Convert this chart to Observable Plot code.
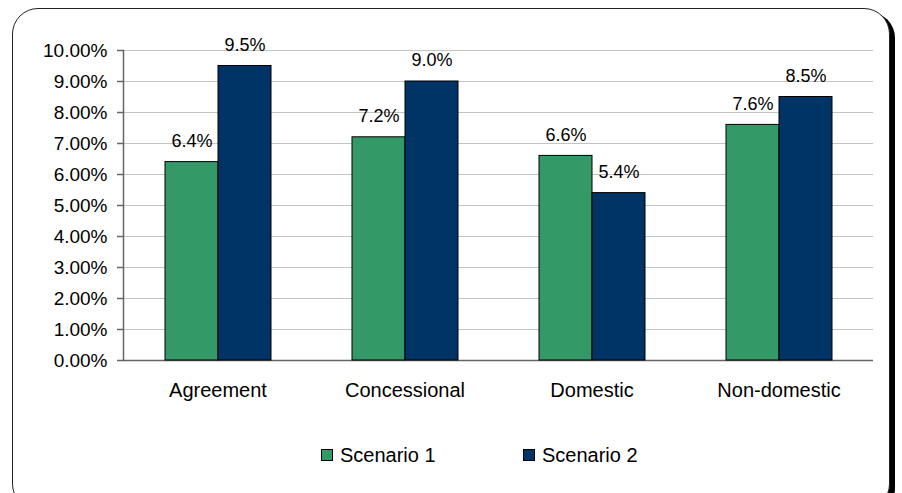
<!DOCTYPE html>
<html>
<head>
<meta charset="utf-8">
<script src="https://cdn.jsdelivr.net/npm/d3@7"></script>
<script src="https://cdn.jsdelivr.net/npm/@observablehq/plot@0.6"></script>
<style>
  html, body { margin: 0; padding: 0; background: #fff; overflow: hidden; }
  #wrap { position: relative; width: 902px; height: 493px; overflow: hidden; font-family: "Liberation Sans", Arial, sans-serif; }
  #box { position: absolute; left: 12px; top: 8px; width: 876px; height: 500px; border: 1.5px solid #222; border-radius: 26px; box-shadow: 5px 4px 0 #000; background: #fff; }
  #bg, #fg { position: absolute; left: 0; top: 0; }
  #bg svg [aria-label="y-axis tick label"] { font-size: 19px; }
  #bg svg [aria-label="y-axis tick"] { stroke: #666; stroke-width: 1.5; }
  #legend { position: absolute; top: 440px; left: 0; width: 902px; height: 30px; font-size: 20px; color: #000; }
  .item { position: absolute; top: 0; display: flex; align-items: center; height: 30px; }
  .sw { width: 10px; height: 10px; border: 1px solid #000; margin-right: 7px; }
</style>
</head>
<body>
<div id="wrap">
  <div id="box"></div>
  <div id="bg"></div>
  <div id="fg"></div>
  <div id="legend"></div>
</div>
<script>
const categories = ["Agreement", "Concessional", "Domestic", "Non-domestic"];
const series = ["Scenario 1", "Scenario 2"];
const scenario1 = [0.064, 0.072, 0.066, 0.076];
const scenario2 = [0.095, 0.090, 0.054, 0.085];
const yTicks = [0, 0.01, 0.02, 0.03, 0.04, 0.05, 0.06, 0.07, 0.08, 0.09, 0.10];
const colors = ["#339966", "#003366"];

const data = categories.flatMap((c, i) => [
  {category: c, series: series[0], value: scenario1[i]},
  {category: c, series: series[1], value: scenario2[i]}
]);

const dims = {
  width: 902,
  height: 420,
  marginLeft: 123,
  marginRight: 29,
  marginTop: 50,
  marginBottom: 60,
  style: {fontFamily: "'Liberation Sans', Arial, sans-serif", fontSize: "20px", color: "#000", background: "transparent", overflow: "visible"}
};

// background: axes, grid, baseline
const bg = Plot.plot({
  ...dims,
  x: {type: "band", domain: categories, padding: 0, tickSize: 0, tickPadding: 22, label: null},
  y: {domain: [0, 0.1], ticks: yTicks, tickFormat: d3.format(".2%"), tickSize: 6, tickPadding: 10, label: null},
  marks: [
    Plot.ruleY(yTicks.slice(1), {stroke: "#c4c4c4", strokeWidth: 1}),
    Plot.ruleY([0], {stroke: "#666", strokeWidth: 1.5}),
    Plot.frame({anchor: "left", stroke: "#666", strokeWidth: 1.5})
  ]
});
document.getElementById("bg").appendChild(bg);

// foreground: grouped bars and value labels
const fg = Plot.plot({
  ...dims,
  fx: {domain: categories, paddingInner: 0.43, paddingOuter: 0.215, axis: null, label: null},
  x: {domain: series, padding: 0, axis: null},
  y: {domain: [0, 0.1], axis: null},
  color: {domain: series, range: colors},
  marks: [
    Plot.barY(data, {fx: "category", x: "series", y: "value", fill: "series", stroke: "#000", strokeWidth: 1}),
    Plot.text(data, {fx: "category", x: "series", y: "value", text: d => d3.format(".1%")(d.value), dy: -21, fontSize: 18, fill: "#000"})
  ]
});
document.getElementById("fg").appendChild(fg);

const legend = document.getElementById("legend");
const lefts = [321, 523];
series.forEach((s, i) => {
  const item = document.createElement("div");
  item.className = "item";
  item.style.left = lefts[i] + "px";
  const sw = document.createElement("div");
  sw.className = "sw";
  sw.style.background = colors[i];
  const t = document.createElement("span");
  t.textContent = s;
  item.appendChild(sw);
  item.appendChild(t);
  legend.appendChild(item);
});
</script>
</body>
</html>
